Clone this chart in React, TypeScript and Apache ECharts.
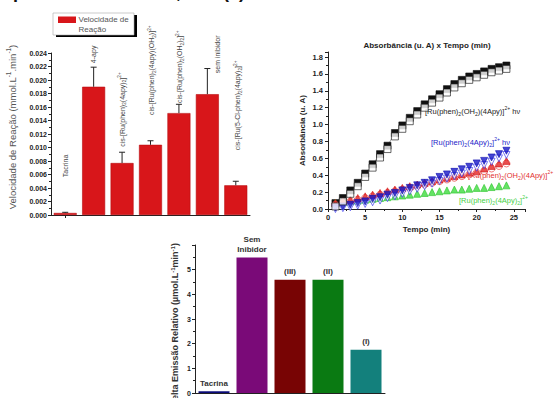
import React, { useEffect, useRef } from "react";
import * as echarts from "echarts";

const FONT = "'Liberation Sans', Arial, sans-serif";

// Chart (a): reaction rate bars
const rateCategories = [
  "Tacrina",
  "4-apy",
  "cis-[Ru(phen)₂(4apy)₂]²⁺",
  "cis-[Ru(phen)₂(4apy)(OH₂)]²⁺",
  "cis-[Ru(phen)₂(OH₂)₂]²⁺",
  "sem inibidor",
  "cis-[Ru(5-Cl-phen)₂(4apy)₂]²⁺",
];
const rateValues = [0.0003, 0.019, 0.0077, 0.0104, 0.0151, 0.0179, 0.0044];
const rateErrors = [0.0001, 0.0029, 0.0016, 0.0006, 0.0013, 0.0038, 0.0006];
const rateLabelAt = [0.0056, 0.0225, 0.0101, 0.0148, 0.0166, 0.021, 0.0096];
const labelNudgePx = [0, 0, 0, 1, 1, 10, 2];

// Chart (b): absorbance vs time
const times = [1, 2, 3, 4, 5, 6, 7, 8, 9, 10, 11, 12, 13, 14, 15, 16, 17, 18, 19, 20, 21, 22, 23, 24];
const blackFilled = [0.07, 0.13, 0.22, 0.31, 0.42, 0.53, 0.65, 0.75, 0.9, 0.99, 1.08, 1.16, 1.24, 1.3, 1.36, 1.42, 1.48, 1.53, 1.57, 1.6, 1.63, 1.66, 1.68, 1.7];
const blackOpen = [0.03, 0.09, 0.18, 0.27, 0.38, 0.49, 0.61, 0.71, 0.86, 0.95, 1.04, 1.12, 1.2, 1.26, 1.32, 1.38, 1.44, 1.49, 1.53, 1.56, 1.59, 1.62, 1.64, 1.66];
const blueFilled = [0.02, 0.03, 0.05, 0.07, 0.09, 0.12, 0.14, 0.17, 0.19, 0.22, 0.25, 0.28, 0.31, 0.34, 0.38, 0.41, 0.44, 0.47, 0.5, 0.54, 0.57, 0.61, 0.65, 0.69];
const blueOpen = [0.0, 0.01, 0.02, 0.04, 0.06, 0.08, 0.1, 0.13, 0.15, 0.18, 0.21, 0.24, 0.27, 0.3, 0.33, 0.36, 0.39, 0.42, 0.45, 0.49, 0.52, 0.56, 0.6, 0.64];
const redFilled = [0.07, 0.09, 0.11, 0.13, 0.15, 0.17, 0.19, 0.21, 0.23, 0.25, 0.27, 0.29, 0.31, 0.33, 0.35, 0.37, 0.39, 0.41, 0.43, 0.45, 0.48, 0.51, 0.54, 0.57];
const redOpen = [0.05, 0.07, 0.09, 0.11, 0.13, 0.15, 0.17, 0.19, 0.21, 0.23, 0.25, 0.27, 0.29, 0.31, 0.33, 0.35, 0.37, 0.39, 0.41, 0.43, 0.45, 0.48, 0.51, 0.54];
const greenFilled = [0.07, 0.08, 0.09, 0.1, 0.11, 0.12, 0.13, 0.14, 0.15, 0.16, 0.17, 0.18, 0.19, 0.2, 0.21, 0.22, 0.23, 0.23, 0.24, 0.25, 0.25, 0.26, 0.27, 0.28];

// Chart (c): relative emission
const emissionCategories = ["Tacrina", "Sem\nInibidor", "(III)", "(II)", "(I)"];
const emissionValues = [0.07, 5.49, 4.59, 4.59, 1.75];
const emissionColors = ["#0a0a78", "#7a0a78", "#780404", "#0a7a12", "#13807c"];

const SUB = "₀₁₂₃₄₅₆₇₈₉";
const SUP = "⁰¹²³⁴⁵⁶⁷⁸⁹⁺⁻";
const SUP_PLAIN = "0123456789+-";

function toRich(s: string): string {
  let out = "";
  let cur = "";
  let mode = "n";
  const flush = () => {
    if (cur) out += `{${mode}|${cur}}`;
    cur = "";
  };
  for (const ch of s) {
    let m = "n";
    let c = ch;
    const si = SUB.indexOf(ch);
    const ui = SUP.indexOf(ch);
    if (si >= 0) {
      m = "s";
      c = String(si);
    } else if (ui >= 0) {
      m = "u";
      c = SUP_PLAIN[ui];
    }
    if (m !== mode) {
      flush();
      mode = m;
    }
    cur += c;
  }
  flush();
  return out;
}

function richStyles(size: number, color: string, weight: string = "normal") {
  const lh = size + 3;
  const small = Math.max(4, size * 0.68);
  const base = { fontFamily: FONT, fill: color, color, fontWeight: weight, lineHeight: lh };
  return {
    n: { ...base, fontSize: size },
    s: { ...base, fontSize: small, verticalAlign: "bottom" },
    u: { ...base, fontSize: small, verticalAlign: "top" },
  };
}

const pairs = (vals: number[]) => times.map((t, i) => [t, vals[i]]);

export default function App() {
  const ref = useRef<HTMLDivElement>(null);
  useEffect(() => {
    if (!ref.current) return;
    const chart = echarts.init(ref.current, undefined, { renderer: "svg" });
    const axisLine = { show: true, lineStyle: { color: "#222", width: 1 } };
    const tickLabel = { fontFamily: FONT, fontSize: 7, fontWeight: "bold" as const, color: "#222" };

    const scatter = (data: number[], symbol: string, size: number, fill: string, stroke: string, rotate = 0, z = 3) => ({
      type: "scatter" as const,
      xAxisIndex: 1,
      yAxisIndex: 1,
      data: pairs(data),
      symbol,
      symbolSize: size,
      symbolRotate: rotate,
      itemStyle: { color: fill, borderColor: stroke, borderWidth: 0.8 },
      z,
    });

    const richText = (x: number, y: number, text: string, size: number, color: string, extra: any = {}, weight = "normal") => ({
      type: "text",
      x,
      y,
      ...extra,
      style: {
        text: toRich(text),
        rich: richStyles(size, color, weight),
        fontFamily: FONT,
        fontSize: size,
        fill: color,
        verticalAlign: "middle",
        ...(extra.style || {}),
      },
    });

    chart.setOption({
      animation: false,
      textStyle: { fontFamily: FONT },
      grid: [
        { left: 51, top: 53, width: 199, height: 162 },
        { left: 328, top: 52, width: 197, height: 157 },
        { left: 195, top: 245, width: 190, height: 148 },
      ],
      xAxis: [
        {
          gridIndex: 0,
          type: "category",
          data: rateCategories,
          axisLine,
          axisTick: { show: true, alignWithLabel: true, length: 3, lineStyle: { color: "#222" } },
          axisLabel: { show: false },
        },
        {
          gridIndex: 1,
          type: "value",
          min: 0,
          max: 26.5,
          interval: 5,
          axisLine,
          axisTick: { show: true, length: 3, lineStyle: { color: "#222" } },
          minorTick: { show: true, splitNumber: 2, length: 2, lineStyle: { color: "#222" } },
          splitLine: { show: false },
          axisLabel: {
            ...tickLabel,
            fontSize: 7.5,
            margin: 4,
            formatter: (v: number) => (Math.abs(v % 5) < 1e-6 ? String(v) : ""),
          },
          name: "Tempo (min)",
          nameLocation: "middle",
          nameGap: 16,
          nameTextStyle: { fontFamily: FONT, fontSize: 8, fontWeight: "bold", color: "#222" },
        },
        {
          gridIndex: 2,
          type: "category",
          data: emissionCategories,
          axisLine,
          axisTick: { show: false },
          axisLabel: { show: false },
        },
      ],
      yAxis: [
        {
          gridIndex: 0,
          type: "value",
          min: 0,
          max: 0.024,
          interval: 0.002,
          axisLine,
          axisTick: { show: true, length: 3, lineStyle: { color: "#222" } },
          minorTick: { show: true, splitNumber: 2, length: 2, lineStyle: { color: "#222" } },
          splitLine: { show: false },
          axisLabel: { ...tickLabel, margin: 4, formatter: (v: number) => v.toFixed(3) },
        },
        {
          gridIndex: 1,
          type: "value",
          min: 0,
          max: 1.86,
          interval: 0.2,
          axisLine,
          axisTick: { show: true, length: 3, lineStyle: { color: "#222" } },
          minorTick: { show: true, splitNumber: 2, length: 2, lineStyle: { color: "#222" } },
          splitLine: { show: false },
          axisLabel: {
            ...tickLabel,
            fontSize: 7.5,
            margin: 5,
            formatter: (v: number) => {
              const k = Math.round(v * 5);
              return Math.abs(v * 5 - k) < 1e-6 ? (k / 5).toFixed(1) : "";
            },
          },
          name: "Absorbância (u. A)",
          nameLocation: "middle",
          nameGap: 22,
          nameTextStyle: { fontFamily: FONT, fontSize: 8, fontWeight: "bold", color: "#222" },
        },
        {
          gridIndex: 2,
          type: "value",
          min: 0,
          max: 6,
          interval: 1,
          axisLine,
          axisTick: { show: true, length: 3, lineStyle: { color: "#222" } },
          minorTick: { show: true, splitNumber: 2, length: 2, lineStyle: { color: "#222" } },
          splitLine: { show: false },
          axisLabel: { ...tickLabel, margin: 4, formatter: (v: number) => (v < 6 ? String(v) : "") },
        },
      ],
      series: [
        {
          type: "bar",
          xAxisIndex: 0,
          yAxisIndex: 0,
          data: rateValues,
          barWidth: 23,
          itemStyle: { color: "#d8161a", borderColor: "#b80d10", borderWidth: 0.6 },
          z: 2,
        },
        {
          type: "custom",
          xAxisIndex: 0,
          yAxisIndex: 0,
          encode: { x: 0, y: 1 },
          data: rateValues.map((v, i) => [i, v, rateErrors[i], rateLabelAt[i]]),
          renderItem: (params: any, api: any) => {
            const i = api.value(0);
            const v = api.value(1);
            const e = api.value(2);
            const la = api.value(3);
            const base = api.coord([i, v]);
            const top = api.coord([i, v + e]);
            const lab = api.coord([i, la]);
            return {
              type: "group",
              children: [
                {
                  type: "line",
                  shape: { x1: base[0], y1: base[1], x2: top[0], y2: top[1] },
                  style: { stroke: "#222", lineWidth: 1 },
                },
                {
                  type: "line",
                  shape: { x1: top[0] - 3, y1: top[1], x2: top[0] + 3, y2: top[1] },
                  style: { stroke: "#222", lineWidth: 1 },
                },
                {
                  type: "text",
                  x: lab[0] + labelNudgePx[i],
                  y: lab[1],
                  rotation: Math.PI / 2,
                  style: {
                    text: toRich(rateCategories[i]),
                    rich: richStyles(7, "#444"),
                    fontFamily: FONT,
                    fontSize: 7,
                    fill: "#444",
                    align: "left",
                    verticalAlign: "middle",
                  },
                },
              ],
            };
          },
          z: 4,
        },
        {
          type: "line",
          xAxisIndex: 1,
          yAxisIndex: 1,
          data: pairs(blackFilled),
          symbol: "rect",
          symbolSize: 7,
          showSymbol: true,
          lineStyle: { color: "#777", width: 0.6 },
          itemStyle: { color: "#111", borderColor: "#111", borderWidth: 0.6 },
          z: 3,
        },
        scatter(blackOpen, "rect", 7, "#fff", "#111", 0, 4),
        scatter(greenFilled, "triangle", 7, "#3fdc3f", "#2cc42c"),
        scatter(redOpen, "circle", 7, "#fff", "#e52a2a"),
        scatter(redFilled, "triangle", 7, "#e52222", "#d11a1a"),
        scatter(blueOpen, "triangle", 7, "#fff", "#2a2aef", 180),
        scatter(blueFilled, "triangle", 7, "#1616c8", "#1010b0", 180),
        {
          type: "bar",
          xAxisIndex: 2,
          yAxisIndex: 2,
          barWidth: 31,
          data: emissionValues.map((v, i) => ({
            value: v,
            itemStyle: { color: emissionColors[i] },
          })),
          label: {
            show: true,
            position: "top",
            distance: 3,
            fontFamily: FONT,
            fontSize: 8,
            fontWeight: "bold",
            color: "#333",
            lineHeight: 10,
            formatter: (p: any) => emissionCategories[p.dataIndex],
          },
        },
      ],
      graphic: [
        // legend of chart (a)
        { type: "rect", shape: { x: 56, y: 15, width: 81, height: 22 }, style: { fill: "#000" } },
        { type: "rect", shape: { x: 53, y: 13, width: 81, height: 22 }, style: { fill: "#fff", stroke: "#aaa", lineWidth: 0.6 } },
        { type: "rect", shape: { x: 58, y: 16.5, width: 18, height: 6.5 }, style: { fill: "#d8161a" } },
        { type: "text", x: 78.5, y: 19.5, style: { text: "Velocidade de", fontFamily: FONT, fontSize: 8, fill: "#555", verticalAlign: "middle" } },
        { type: "text", x: 78.5, y: 29.5, style: { text: "Reação", fontFamily: FONT, fontSize: 8, fill: "#555", verticalAlign: "middle" } },
        // y-axis title of chart (a)
        richText(12, 127, "Velocidade de Reação (mmol.L⁻¹.min⁻¹)", 9.5, "#555", {
          rotation: Math.PI / 2,
          style: { align: "center" },
        }),
        // title of chart (b)
        {
          type: "text",
          x: 427,
          y: 45,
          style: {
            text: "Absorbância (u. A) x Tempo (min)",
            fontFamily: FONT,
            fontSize: 8,
            fontWeight: "bold",
            fill: "#222",
            align: "center",
            verticalAlign: "middle",
          },
        },
        richText(425, 111, "[Ru(phen)₂(OH₂)(4Apy)]²⁺ hν", 7.5, "#222"),
        richText(431, 142, "[Ru(phen)₂(4Apy)₂]²⁺ hν", 7.5, "#2323c8"),
        richText(468, 175, "[Ru(phen)₂(OH₂)(4Apy)]²⁺", 7.5, "#e23030"),
        richText(459, 200, "[Ru(phen)₂(4Apy)₂]²⁺", 7.5, "#45d045"),
        // y-axis title of chart (c), cut off at the bottom like the reference
        richText(175, 243, "Delta Emissão Relativo (µmol.L⁻¹min⁻¹)", 9, "#333", {
          rotation: Math.PI / 2,
          style: { align: "right" },
        }, "bold"),
        // fragments of a caption cut off at the top edge
        { type: "text", x: 13, y: 0.5, style: { text: "p", fontFamily: FONT, fontSize: 18, fontWeight: "bold", fill: "#111", verticalAlign: "bottom" } },
        { type: "text", x: 176, y: 0.5, style: { text: ",", fontFamily: FONT, fontSize: 18, fontWeight: "bold", fill: "#111", verticalAlign: "bottom" } },
        { type: "text", x: 223, y: 0.5, style: { text: "(a)", fontFamily: FONT, fontSize: 18, fontWeight: "bold", fill: "#111", verticalAlign: "bottom" } },
      ],
    });
    return () => chart.dispose();
  }, []);
  return (
    <div
      ref={ref}
      style={{ position: "absolute", left: 0, top: 0, width: 554, height: 398, background: "#fff" }}
    />
  );
}
